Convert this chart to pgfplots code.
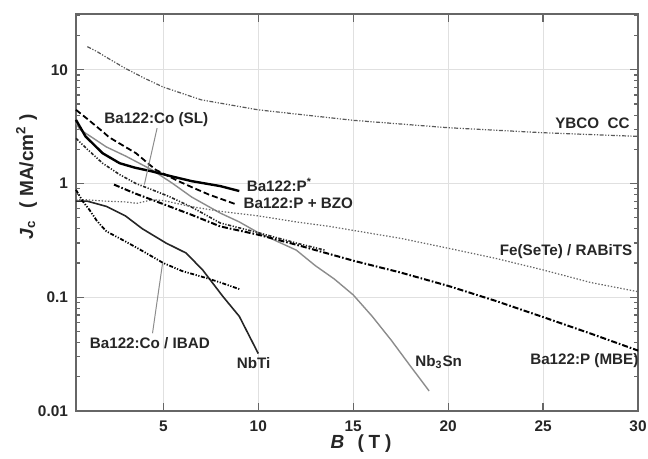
\documentclass[border=0pt]{standalone}
\usepackage{fontspec}
\setmainfont{Liberation Sans}[BoldFont={Liberation Sans Bold},ItalicFont={Liberation Sans Italic},BoldItalicFont={Liberation Sans Bold Italic}]
\usepackage{pgfplots}
\pgfplotsset{compat=1.18}
\begin{document}
\begin{tikzpicture}
\begin{axis}[
  scale only axis, width=281pt, height=198.5pt,
  xmin=0.4, xmax=30, ymode=log, ymin=0.01, ymax=31,
  xtick={5,10,15,20,25,30},
  ytick={0.01,0.1,1,10}, yticklabels={0.01,0.1,1,10},
  minor ytick={0.02,0.03,0.04,0.05,0.06,0.07,0.08,0.09,0.2,0.3,0.4,0.5,0.6,0.7,0.8,0.9,2,3,4,5,6,7,8,9,20,30},
  tick align=inside, xtick pos=both, ytick pos=both,
  xticklabel pos=left, yticklabel pos=left,
  major tick length=4pt, minor tick length=2.2pt,
  grid=major, major grid style={black!12, line width=0.5pt},
  axis line style={black!60, line width=0.9pt},
  every tick/.style={black!60, line width=0.6pt},
  tick label style={font=\fontsize{7.7}{9}\selectfont\bfseries, text=black!85},
  /pgf/number format/assume math mode=true,
  xticklabel style={yshift=-1.5pt},
  yticklabel style={xshift=-0.5pt},
  xlabel={\textbf{\textit{B}}\hspace{0.7em}(\hspace{0.25em}T\hspace{0.25em})},
  ylabel={\textbf{\textit{J}}\textsubscript{c}\hspace{0.6em}(\hspace{0.3em}MA/cm\textsuperscript{2}\hspace{0.3em})},
  xlabel style={font=\fontsize{9.5}{11}\selectfont\bfseries, text=black!85, at={(axis description cs:0.507,-0.083)}, anchor=center},
  ylabel style={font=\fontsize{9.5}{11}\selectfont\bfseries, text=black!85, at={(axis description cs:-0.088,0.59)}, anchor=center},
  clip=false,
  nodes near coords={},
]
\coordinate (sw) at (rel axis cs:0,0);
\coordinate (ne) at (rel axis cs:1,1);
% YBCO CC
\addplot[black!65, line width=0.6pt, dash pattern=on 2pt off 0.8pt on 0.6pt off 0.8pt on 0.6pt off 0.8pt] coordinates {
(1,16) (1.5,14.5) (2,12.9) (3,10.3) (4,8.45) (5,7.05) (7,5.45) (10,4.45) (15,3.6) (20,3.1) (25,2.8) (30,2.6)};
% Nb3Sn
\addplot[black!45, line width=0.7pt] coordinates {
(0.4,3.4) (0.6,3.0) (2,2.1) (3,1.75) (4.4,1.32) (5.5,1.0) (6.5,0.76) (8,0.55) (9,0.46) (10,0.37) (11,0.31) (12,0.26) (13,0.19) (14,0.145) (15,0.105) (16,0.068) (17,0.042) (18,0.025) (19,0.015)};
% Ba122:P + BZO
\addplot[black, line width=0.9pt, dash pattern=on 3pt off 1.5pt] coordinates {
(0.4,4.45) (1,3.7) (1.8,2.87) (2.15,2.55) (3,2.1) (3.56,1.85) (4.6,1.32) (5.85,1.04) (6.5,0.93) (7.4,0.8) (8.8,0.66)};
% Ba122:P*
\addplot[black, line width=1.2pt] coordinates {
(0.4,3.63) (0.9,2.6) (1.8,1.85) (2.7,1.51) (3.5,1.38) (4.4,1.28) (5.5,1.15) (6.5,1.05) (8,0.95) (9,0.86)};
% Ba122:Co (SL)
\addplot[black!85, line width=0.8pt, dash pattern=on 1.6pt off 0.8pt on 0.6pt off 0.8pt on 0.6pt off 0.8pt] coordinates {
(0.4,2.5) (1,2.0) (1.8,1.51) (2.7,1.2) (3.56,1.0) (4.5,0.87) (5.3,0.77) (6.5,0.62) (8,0.45) (10,0.37) (12,0.3) (13.5,0.26)};
% Fe(SeTe) / RABiTS
\addplot[black!60, line width=0.6pt, dash pattern=on 0.7pt off 0.9pt] coordinates {
(0.4,0.72) (1,0.72) (2,0.70) (3,0.69) (3.6,0.67) (4.4,0.72) (5,0.71) (6.4,0.63) (8,0.57) (10,0.52) (12,0.46) (13.76,0.42) (15.3,0.38) (17.5,0.33) (20,0.27) (22.5,0.22) (25,0.174) (27.5,0.135) (30,0.112)};
% Ba122:P (MBE)
\addplot[black, line width=1pt, dash pattern=on 3pt off 1pt on 0.8pt off 1pt] coordinates {
(2.4,0.98) (3.5,0.82) (5,0.66) (6.5,0.53) (8,0.42) (10,0.355) (12,0.29) (15,0.21) (17.5,0.165) (20,0.126) (22.5,0.093) (25,0.067) (27.5,0.048) (30,0.034)};
% NbTi
\addplot[black!85, line width=0.8pt] coordinates {
(0.4,0.70) (1,0.70) (2,0.63) (3,0.52) (3.9,0.40) (5.14,0.30) (6.2,0.245) (7.07,0.174) (8.13,0.102) (9,0.068) (10,0.032)};
% Ba122:Co / IBAD
\addplot[black, line width=0.9pt, dash pattern=on 2pt off 0.8pt on 0.6pt off 0.8pt on 0.6pt off 0.8pt] coordinates {
(0.4,0.88) (0.75,0.7) (1.1,0.59) (1.5,0.47) (2,0.38) (3,0.31) (4,0.25) (5,0.20) (6,0.17) (7.25,0.148) (8,0.135) (9,0.118)};
% labels
\begin{scope}[every node/.style={font=\fontsize{7.6}{9}\selectfont\bfseries, text=black!85, inner sep=1pt}]
\node at (axis cs:27.6,3.42) {YBCO\ \ CC};
\node at (axis cs:4.63,3.63) {Ba122:Co (SL)};
\node[anchor=west] at (axis cs:9.27,0.97) {Ba122:P\textsuperscript{*}};
\node[anchor=west] at (axis cs:9.1,0.67) {Ba122:P + BZO};
\node[anchor=west] at (axis cs:22.6,0.252) {Fe(SeTe) / RABiTS};
\node[anchor=west] at (axis cs:24.2,0.028) {Ba122:P (MBE)};
\node at (axis cs:19.5,0.0272) {Nb\textsubscript{3}Sn};
\node at (axis cs:9.75,0.0265) {NbTi};
\node at (axis cs:4.29,0.0394) {Ba122:Co / IBAD};
\end{scope}
\draw[black!45, line width=0.5pt] (axis cs:4.67,3.07) -- (axis cs:4.0,0.98);
\draw[black!45, line width=0.5pt] (axis cs:4.43,0.0483) -- (axis cs:4.96,0.2);
\end{axis}
\pgfresetboundingbox
\path[use as bounding box] ([shift={(-38pt,-24pt)}]sw) rectangle ([shift={(5pt,7pt)}]ne);
\end{tikzpicture}
\end{document}
